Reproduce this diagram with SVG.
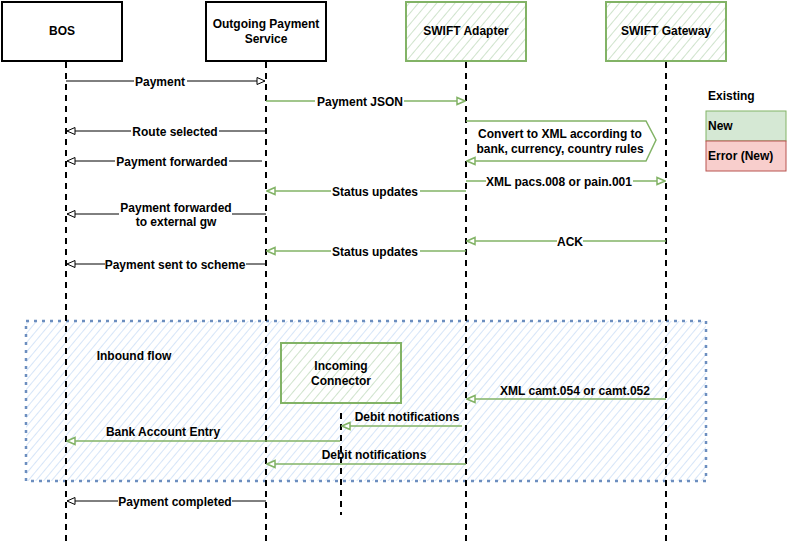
<svg xmlns="http://www.w3.org/2000/svg" width="787" height="543" viewBox="0 0 787 543">
<style>
text{font-family:"Liberation Sans",Arial,sans-serif;font-size:12px;font-weight:bold;fill:#000;text-anchor:middle}
.actor{fill:#fff;stroke:#000;stroke-width:2}
.gactor{fill:url(#hg);stroke:#82b366;stroke-width:2}
.life{stroke:#000;stroke-width:2;stroke-dasharray:6 5;fill:none}
.mb{stroke:#000;stroke-width:1;fill:none}
.mg{stroke:#82b366;stroke-width:1.5;fill:none}
.lbl{fill:#fff}
</style>
<defs>
<pattern id="hg" patternUnits="userSpaceOnUse" width="7" height="7" patternTransform="rotate(40)">
<rect width="7" height="7" fill="#fff"/>
<line x1="0" y1="0" x2="0" y2="7" stroke="#cfe3cc" stroke-width="2"/>
</pattern>
<pattern id="hb" patternUnits="userSpaceOnUse" width="6" height="6" patternTransform="rotate(40)">
<rect width="6" height="6" fill="#fff"/>
<line x1="0" y1="0" x2="0" y2="6" stroke="#d2e2f8" stroke-width="1.8"/>
</pattern>
<marker id="ab" markerWidth="10" markerHeight="10" refX="9" refY="5" orient="auto" markerUnits="userSpaceOnUse">
<path d="M1,1.5 L9,5 L1,8.5 Z" fill="#fff" stroke="#000" stroke-width="1"/>
</marker>
<marker id="ag" markerWidth="10" markerHeight="10" refX="9" refY="5" orient="auto" markerUnits="userSpaceOnUse">
<path d="M1,1.5 L9,5 L1,8.5 Z" fill="#fff" stroke="#82b366" stroke-width="1.5"/>
</marker>
</defs>
<rect width="787" height="543" fill="#fff"/>

<g id="inbound-frame">
<rect x="26" y="321" width="680" height="160" fill="url(#hb)" stroke="#6c8ebf" stroke-width="2.5" stroke-dasharray="3 5"/>
<text x="134" y="360">Inbound flow</text>
</g>

<g id="lifelines">
<line class="life" x1="66" y1="62" x2="66" y2="543"/>
<line class="life" x1="266" y1="62" x2="266" y2="543"/>
<line class="life" x1="466" y1="62" x2="466" y2="543"/>
<line class="life" x1="666" y1="62" x2="666" y2="543"/>
<line class="life" x1="341" y1="413" x2="341" y2="515"/>
</g>

<g id="bos"><rect class="actor" x="2" y="2" width="120" height="59"/><text x="62" y="35">BOS</text></g>
<g id="ops"><rect class="actor" x="206" y="2" width="120" height="59"/><text x="266" y="28">Outgoing Payment</text><text x="266" y="43">Service</text></g>
<g id="adapter"><rect class="gactor" x="406" y="2" width="120" height="59"/><text x="466" y="35">SWIFT Adapter</text></g>
<g id="gateway"><rect class="gactor" x="606" y="2" width="120" height="59"/><text x="666" y="35">SWIFT Gateway</text></g>
<g id="incoming"><rect class="gactor" x="281" y="343" width="120" height="60"/><text x="341" y="370">Incoming</text><text x="341" y="385">Connector</text></g>

<g id="legend">
<text x="708" y="100" style="text-anchor:start">Existing</text>
<rect x="706" y="111" width="80" height="30" fill="#d5e8d4" stroke="#82b366"/>
<text x="708" y="130" style="text-anchor:start">New</text>
<rect x="706" y="141" width="80" height="30" fill="#f8cecc" stroke="#b85450"/>
<text x="708" y="160" style="text-anchor:start">Error (New)</text>
</g>

<g id="connectors">
<line class="mb" x1="66" y1="81" x2="265" y2="81" marker-end="url(#ab)"/>
<rect class="lbl" x="134" y="74" width="53" height="14"/><text x="160" y="86">Payment</text>

<line class="mg" x1="266" y1="101" x2="465" y2="101" marker-end="url(#ag)"/>
<rect class="lbl" x="315" y="94" width="89" height="14"/><text x="360" y="106">Payment JSON</text>

<line class="mb" x1="266" y1="131" x2="67" y2="131" marker-end="url(#ab)"/>
<rect class="lbl" x="131" y="124" width="88" height="14"/><text x="175" y="136">Route selected</text>

<line class="mb" x1="262" y1="161" x2="67" y2="161" marker-end="url(#ab)"/>
<rect class="lbl" x="115" y="154" width="114" height="14"/><text x="172" y="166">Payment forwarded</text>

<line class="mg" x1="466" y1="191" x2="267" y2="191" marker-end="url(#ag)"/>
<rect class="lbl" x="331" y="184" width="89" height="14"/><text x="375" y="196">Status updates</text>

<path class="mg" d="M466,121 L646,121 L656,140 L646,161 L467,161" marker-end="url(#ag)"/>
<text x="560" y="138">Convert to XML according to</text>
<text x="560" y="153">bank, currency, country rules</text>

<line class="mg" x1="466" y1="181" x2="665" y2="181" marker-end="url(#ag)"/>
<rect class="lbl" x="486" y="174" width="147" height="14"/><text x="559" y="186">XML pacs.008 or pain.001</text>

<line class="mb" x1="266" y1="214" x2="67" y2="214" marker-end="url(#ab)"/>
<rect class="lbl" x="119" y="200" width="113" height="28"/><text x="176" y="212">Payment forwarded</text><text x="176" y="226">to external gw</text>

<line class="mg" x1="666" y1="241" x2="467" y2="241" marker-end="url(#ag)"/>
<rect class="lbl" x="557" y="234" width="26" height="14"/><text x="570" y="246">ACK</text>

<line class="mg" x1="466" y1="251" x2="267" y2="251" marker-end="url(#ag)"/>
<rect class="lbl" x="331" y="244" width="89" height="14"/><text x="375" y="256">Status updates</text>

<line class="mb" x1="266" y1="264" x2="67" y2="264" marker-end="url(#ab)"/>
<rect class="lbl" x="105" y="257" width="141" height="14"/><text x="175" y="269">Payment sent to scheme</text>

<line class="mg" x1="666" y1="399" x2="467" y2="399" marker-end="url(#ag)"/>
<text x="575" y="395">XML camt.054 or camt.052</text>

<line class="mg" x1="462" y1="426" x2="342" y2="426" marker-end="url(#ag)"/>
<text x="407" y="421">Debit notifications</text>

<line class="mg" x1="340" y1="441" x2="67" y2="441" marker-end="url(#ag)"/>
<text x="163" y="436">Bank Account Entry</text>

<line class="mg" x1="466" y1="464" x2="267" y2="464" marker-end="url(#ag)"/>
<text x="374" y="459">Debit notifications</text>

<line class="mb" x1="266" y1="501" x2="67" y2="501" marker-end="url(#ab)"/>
<rect class="lbl" x="118" y="494" width="114" height="14"/><text x="175" y="506">Payment completed</text>
</g>
</svg>
